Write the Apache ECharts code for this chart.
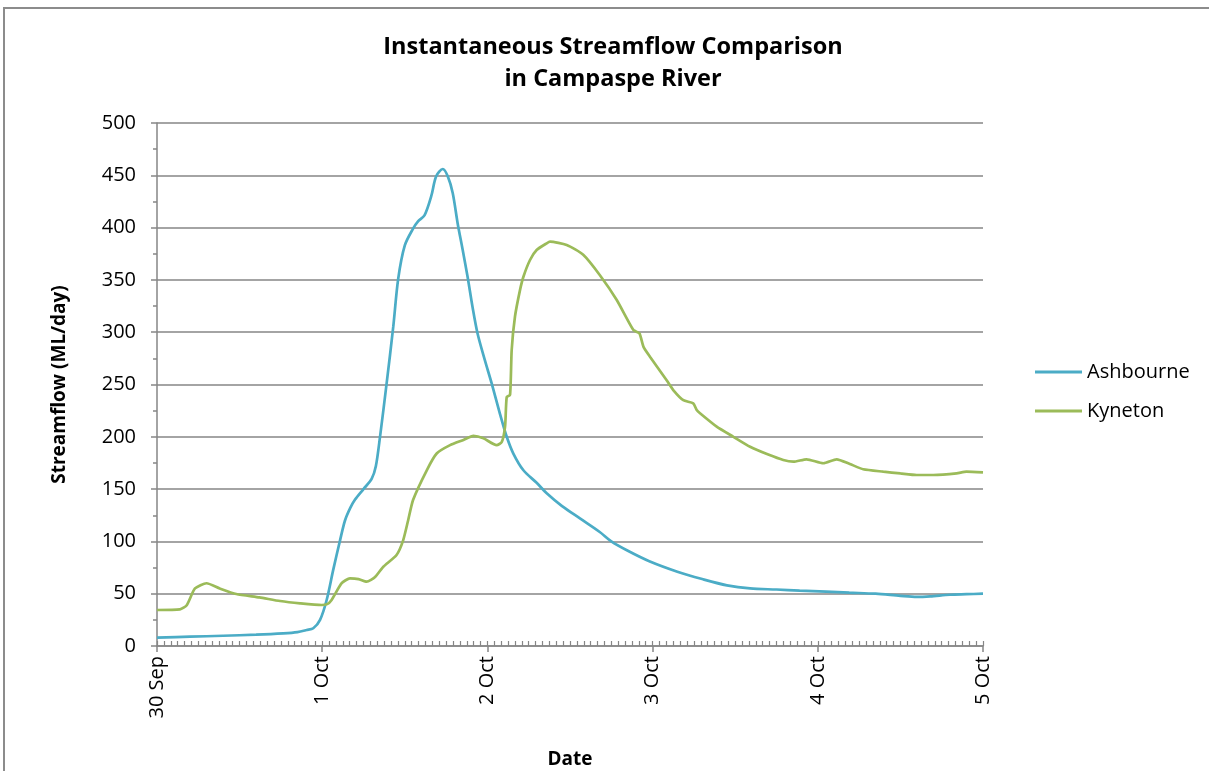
<!DOCTYPE html>
<html>
<head>
<meta charset="utf-8">
<script src="https://cdn.jsdelivr.net/npm/echarts@6/dist/echarts.min.js"></script>
<style>html,body{margin:0;padding:0;background:#fff}#c{width:1209px;height:771px}</style>
</head>
<body>
<div id="c"></div>
<script>
// x values are days since 30 Sep 00:00
var dayLabels = ['30 Sep', '1 Oct', '2 Oct', '3 Oct', '4 Oct', '5 Oct'];

var ashT = [0, 0.2, 0.4, 0.6, 0.765, 0.85, 0.906, 0.946, 0.987, 1.027, 1.067, 1.108, 1.138, 1.17, 1.199, 1.25, 1.30, 1.325, 1.35, 1.39, 1.43, 1.46, 1.50, 1.55, 1.58, 1.62, 1.66, 1.69, 1.73, 1.76, 1.79, 1.82, 1.85, 1.88, 1.91, 1.94, 1.985, 2.026, 2.076, 2.117, 2.157, 2.218, 2.298, 2.359, 2.45, 2.56, 2.68, 2.75, 2.85, 2.98, 3.15, 3.3, 3.45, 3.59, 3.75, 3.89, 4.05, 4.19, 4.35, 4.5, 4.6, 4.68, 4.8, 4.9, 5.0];
var ashV = [8, 8.9, 9.8, 10.8, 12.1, 13.3, 15.3, 17, 25, 44, 73, 101, 120, 132, 140, 150, 160, 172, 200, 251, 305, 351, 383, 399, 406, 412, 430, 449, 456, 449, 433, 404, 379, 353, 324, 299, 273, 251, 222, 200, 184, 168, 156, 146, 134, 122, 109, 100, 91, 81, 71, 64, 58, 55, 54, 53, 52, 51, 50, 48, 47, 47.5, 49, 49.5, 50];

var kynT = [0, 0.139, 0.18, 0.23, 0.30, 0.38, 0.48, 0.62, 0.745, 0.866, 0.997, 1.03, 1.057, 1.118, 1.168, 1.22, 1.269, 1.32, 1.37, 1.45, 1.49, 1.52, 1.55, 1.633, 1.693, 1.774, 1.855, 1.915, 1.976, 2.056, 2.087, 2.107, 2.117, 2.137, 2.147, 2.167, 2.197, 2.218, 2.258, 2.298, 2.359, 2.379, 2.48, 2.58, 2.68, 2.783, 2.884, 2.92, 2.945, 2.984, 3.085, 3.125, 3.186, 3.246, 3.267, 3.287, 3.388, 3.489, 3.59, 3.70, 3.791, 3.852, 3.932, 4.033, 4.114, 4.194, 4.275, 4.396, 4.5, 4.598, 4.699, 4.84, 4.9, 5.0];
var kynV = [34.4, 35, 39, 55, 60, 55, 49.7, 46.5, 43, 40.8, 39.2, 40, 44, 60, 64.7, 64, 61.5, 66, 75.8, 87, 101, 120, 139.6, 168, 184, 192, 197, 200.8, 198.5, 192, 195, 210, 238, 240, 283, 315, 340, 353, 369, 378.6, 385, 386.5, 383.4, 374, 354.7, 330.8, 302, 299, 286, 276.6, 254, 244.7, 235, 232, 225.6, 222.5, 209.7, 200, 190.5, 183, 177.8, 176.2, 178.5, 174.7, 178.5, 174, 169, 166.7, 165, 163.5, 163.5, 165, 166.7, 166];

function pairs(t, v) { return t.map(function (x, i) { return [x, v[i]]; }); }

var grey = '#868686';
var font = '"Open Sans", sans-serif';

var chart = echarts.init(document.getElementById('c'));
chart.setOption({
  backgroundColor: '#fff',
  animation: false,
  title: {
    text: 'Instantaneous Streamflow Comparison\nin Campaspe River',
    left: 608, top: 26, textAlign: 'center',
    textStyle: { fontFamily: font, fontWeight: 'bold', fontSize: 23.5, lineHeight: 32, color: '#000' }
  },
  graphic: [{
    type: 'rect', shape: { x: 4, y: 8, width: 1240, height: 800 },
    style: { fill: 'none', stroke: '#8c8c8c', lineWidth: 2 }, silent: true, z: -1
  }],
  legend: {
    orient: 'vertical', left: 1030, top: 357, itemWidth: 47, itemHeight: 3, itemGap: 19,
    icon: 'rect',
    textStyle: { fontFamily: font, fontSize: 20, color: '#000' },
    data: ['Ashbourne', 'Kyneton']
  },
  grid: { left: 157, right: 226, top: 123, bottom: 125, outerBoundsMode: 'none', containLabel: false },
  xAxis: [{
    type: 'value', min: 0, max: 5, interval: 1,
    name: 'Date', nameLocation: 'middle', nameGap: 104,
    nameTextStyle: { fontFamily: font, fontWeight: 'bold', fontSize: 19, color: '#000' },
    axisLine: { show: true, lineStyle: { color: grey, width: 1.5 } },
    axisTick: { show: true, length: 6, lineStyle: { color: grey, width: 1.5 } },
    axisLabel: { rotate: 90, margin: 10, fontFamily: font, fontSize: 20, color: '#000',
      formatter: function (v) { return dayLabels[Math.round(v)]; } },
    splitLine: { show: false }
  }, {
    type: 'value', min: 0, max: 120, interval: 1, position: 'bottom',
    axisLine: { show: false },
    axisTick: { show: true, inside: true, length: 5, lineStyle: { color: grey, width: 1.2 } },
    axisLabel: { show: false },
    splitLine: { show: false }
  }],
  yAxis: {
    type: 'value', min: 0, max: 500, interval: 50,
    name: 'Streamflow (ML/day)', nameLocation: 'middle', nameGap: 88,
    nameTextStyle: { fontFamily: font, fontWeight: 'bold', fontSize: 19, color: '#000' },
    axisLine: { show: true, lineStyle: { color: grey, width: 1.5 } },
    axisTick: { show: true, length: 6, lineStyle: { color: grey, width: 1.5 } },
    minorTick: { show: true, splitNumber: 2, length: 4, lineStyle: { color: grey, width: 1.5 } },
    axisLabel: { margin: 21, fontFamily: font, fontSize: 20, color: '#000' },
    splitLine: { show: true, lineStyle: { color: grey, width: 1.5 } }
  },
  series: [{
    name: 'Ashbourne', type: 'line', xAxisIndex: 0, symbol: 'none', smooth: 0.3,
    color: '#4BACC6', lineStyle: { width: 2.7, color: '#4BACC6' },
    data: pairs(ashT, ashV)
  }, {
    name: 'Kyneton', type: 'line', xAxisIndex: 0, symbol: 'none', smooth: 0.2,
    color: '#9BBB59', lineStyle: { width: 2.7, color: '#9BBB59' },
    data: pairs(kynT, kynV)
  }]
});
</script>
</body>
</html>
